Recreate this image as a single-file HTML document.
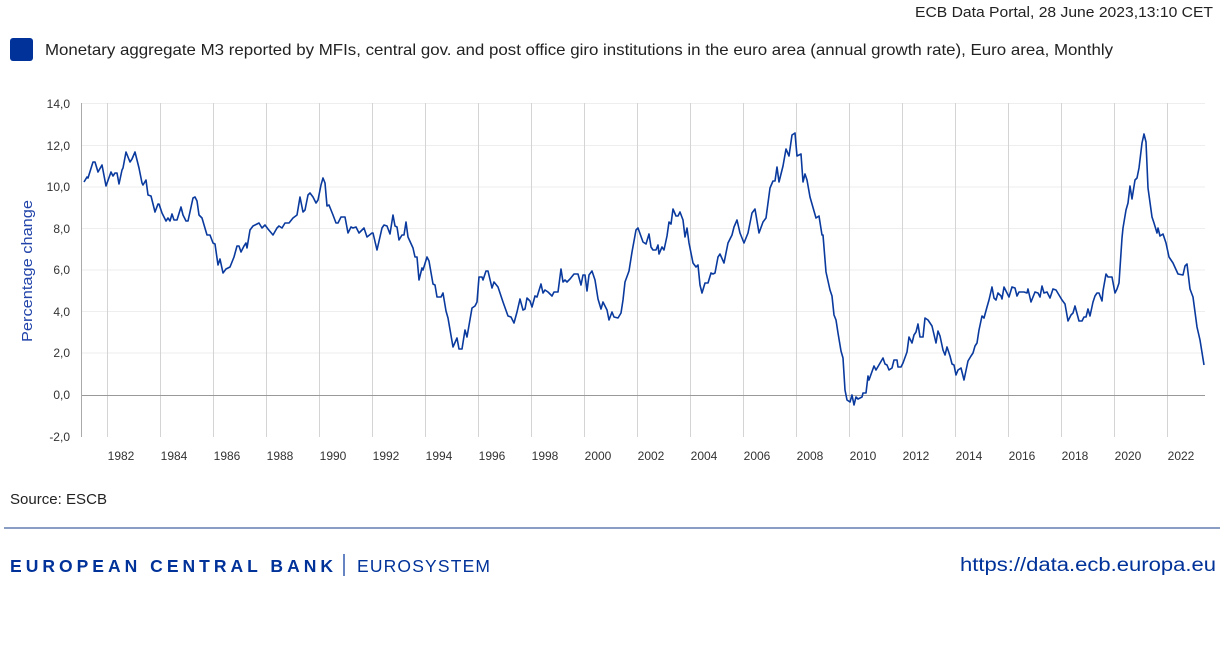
<!DOCTYPE html>
<html><head><meta charset="utf-8"><style>
body{margin:0;width:1220px;height:669px;background:#fff;font-family:"Liberation Sans","DejaVu Sans",sans-serif;overflow:hidden}
</style></head><body>
<svg width="1220" height="669" xmlns="http://www.w3.org/2000/svg" style="position:absolute;left:0;top:0">
<text x="1213" y="17" text-anchor="end" font-size="15" fill="#222" textLength="298" lengthAdjust="spacingAndGlyphs">ECB Data Portal, 28 June 2023,13:10 CET</text>
<rect x="10" y="38" width="23" height="23" rx="3" fill="#003299"/>
<text x="45" y="55" font-size="16" fill="#222" textLength="1068" lengthAdjust="spacingAndGlyphs">Monetary aggregate M3 reported by MFIs, central gov. and post office giro institutions in the euro area (annual growth rate), Euro area, Monthly</text>
<g stroke="#eeeeee" stroke-width="1">
<line x1="82" x2="1205" y1="103.5" y2="103.5"/><line x1="82" x2="1205" y1="145.5" y2="145.5"/><line x1="82" x2="1205" y1="187" y2="187"/><line x1="82" x2="1205" y1="228.5" y2="228.5"/><line x1="82" x2="1205" y1="270" y2="270"/><line x1="82" x2="1205" y1="311.5" y2="311.5"/><line x1="82" x2="1205" y1="353" y2="353"/>
</g>
<g stroke="#d4d4d4" stroke-width="1">
<line x1="107.5" x2="107.5" y1="103" y2="437"/><line x1="160.5" x2="160.5" y1="103" y2="437"/><line x1="213.5" x2="213.5" y1="103" y2="437"/><line x1="266.5" x2="266.5" y1="103" y2="437"/><line x1="319.5" x2="319.5" y1="103" y2="437"/><line x1="372.5" x2="372.5" y1="103" y2="437"/><line x1="425.5" x2="425.5" y1="103" y2="437"/><line x1="478.5" x2="478.5" y1="103" y2="437"/><line x1="531.5" x2="531.5" y1="103" y2="437"/><line x1="584.5" x2="584.5" y1="103" y2="437"/><line x1="637.5" x2="637.5" y1="103" y2="437"/><line x1="690.5" x2="690.5" y1="103" y2="437"/><line x1="743.5" x2="743.5" y1="103" y2="437"/><line x1="796.5" x2="796.5" y1="103" y2="437"/><line x1="849.5" x2="849.5" y1="103" y2="437"/><line x1="902.5" x2="902.5" y1="103" y2="437"/><line x1="955.5" x2="955.5" y1="103" y2="437"/><line x1="1008.5" x2="1008.5" y1="103" y2="437"/><line x1="1061.5" x2="1061.5" y1="103" y2="437"/><line x1="1114.5" x2="1114.5" y1="103" y2="437"/><line x1="1167.5" x2="1167.5" y1="103" y2="437"/>
</g>
<line x1="81.5" x2="81.5" y1="103" y2="437" stroke="#aaa"/>
<line x1="82" x2="1205" y1="395.5" y2="395.5" stroke="#999"/>
<g font-size="12" fill="#333" text-anchor="end">
<text x="70" y="108">14,0</text><text x="70" y="150">12,0</text><text x="70" y="191">10,0</text><text x="70" y="233">8,0</text><text x="70" y="274">6,0</text><text x="70" y="316">4,0</text><text x="70" y="357">2,0</text><text x="70" y="399">0,0</text><text x="70" y="441">-2,0</text>
</g>
<g font-size="12" fill="#333" text-anchor="middle">
<text x="121" y="460">1982</text><text x="174" y="460">1984</text><text x="227" y="460">1986</text><text x="280" y="460">1988</text><text x="333" y="460">1990</text><text x="386" y="460">1992</text><text x="439" y="460">1994</text><text x="492" y="460">1996</text><text x="545" y="460">1998</text><text x="598" y="460">2000</text><text x="651" y="460">2002</text><text x="704" y="460">2004</text><text x="757" y="460">2006</text><text x="810" y="460">2008</text><text x="863" y="460">2010</text><text x="916" y="460">2012</text><text x="969" y="460">2014</text><text x="1022" y="460">2016</text><text x="1075" y="460">2018</text><text x="1128" y="460">2020</text><text x="1181" y="460">2022</text>
</g>
<text transform="translate(32,271) rotate(-90)" text-anchor="middle" font-size="15" fill="#2244aa" textLength="142" lengthAdjust="spacingAndGlyphs">Percentage change</text>
<polyline fill="none" stroke="#0a3a9e" stroke-width="1.6" stroke-linejoin="round" points="84,182 87,177 88,178 93,162 95,162 98,172 102,165 106,186 111,172 113,176 115,173 117,173 119,184 122,170 123,168 126,152 130,162 132,159 135,152 139,168 142,183 143,185 146,180 148,195 151,196 155,212 158,204 159,204 162,213 166,221 168,218 170,221 172,214 174,220 177,220 181,207 183,215 186,221 188,221 193,198 195,197 197,201 199,215 202,218 207,235 210,235 213,243 215,244 218,265 220,259 223,273 226,269 230,267 234,257 237,246 239,246 241,252 244,246 246,243 247,248 250,230 253,226 257,224 259,223 262,228 265,225 268,229 273,235 277,228 279,226 282,228 285,223 289,223 293,218 297,215 300,197 303,212 305,210 308,195 310,193 313,197 316,203 318,200 321,185 323,178 325,183 327,206 329,205 333,215 336,223 338,223 341,217 345,217 348,233 351,227 353,228 356,227 359,233 364,228 367,237 372,233 373,233 377,250 382,228 384,225 387,226 390,234 393,215 395,226 397,227 399,240 402,235 404,235 406,222 408,237 413,248 415,257 417,257 419,280 422,268 423,270 427,257 429,261 433,284 435,285 437,297 441,297 443,293 446,311 448,318 453,347 457,338 459,349 462,349 465,330 467,337 472,308 475,306 477,302 479,277 482,277 483,280 486,271 488,271 492,288 494,282 498,287 503,302 508,316 511,317 514,323 517,312 520,299 523,310 525,309 527,298 530,301 532,307 535,296 537,297 541,284 543,293 545,290 548,292 552,296 554,292 558,292 561,269 563,282 565,280 567,282 570,279 574,274 578,274 581,285 583,275 585,275 587,291 589,275 592,271 595,280 598,299 601,309 603,302 607,310 609,320 612,312 614,317 618,318 621,313 623,300 625,282 629,271 632,252 636,230 638,228 643,242 646,244 649,234 651,247 653,250 656,250 658,245 659,254 662,247 664,250 667,236 669,222 671,224 673,209 676,216 678,216 680,212 683,220 685,237 687,228 689,243 693,263 696,267 698,265 700,285 702,293 705,283 708,283 711,273 713,274 715,273 718,257 720,254 724,263 728,243 732,235 734,227 737,220 740,233 744,243 748,233 752,213 755,209 759,233 763,222 766,218 770,188 773,181 775,181 777,167 779,182 783,166 786,149 789,156 792,135 795,133 797,156 801,154 803,182 805,174 807,180 810,197 816,218 819,216 822,235 823,235 826,272 830,290 832,296 834,315 836,320 838,333 841,351 843,358 845,390 847,400 850,402 852,395 854,405 856,397 858,399 862,397 863,393 866,393 868,376 869,380 874,366 876,370 883,358 885,364 887,365 889,370 892,368 894,360 897,360 898,367 901,367 903,363 907,352 909,337 912,343 914,335 916,332 918,324 920,337 923,337 925,318 928,320 932,326 936,343 938,331 940,336 943,350 945,355 947,347 950,356 952,364 954,365 956,375 958,370 961,368 964,380 968,361 971,356 973,353 975,346 977,343 979,330 982,316 984,318 987,307 989,300 992,287 994,298 996,300 998,293 1001,296 1002,299 1004,287 1007,293 1009,297 1012,287 1015,288 1017,296 1019,292 1024,292 1027,293 1028,289 1031,302 1033,297 1035,292 1038,293 1040,297 1042,286 1044,293 1047,292 1050,298 1053,289 1056,290 1059,295 1062,300 1065,304 1068,321 1071,315 1073,313 1075,306 1079,321 1082,321 1084,317 1086,317 1088,309 1090,316 1093,302 1095,296 1097,293 1099,293 1102,301 1103,291 1106,274 1108,277 1112,277 1115,293 1117,289 1119,283 1122,238 1123,228 1126,210 1128,203 1130,186 1132,199 1135,180 1137,178 1139,168 1142,143 1144,134 1146,142 1148,188 1152,217 1154,223 1157,233 1158,228 1160,236 1163,234 1166,243 1169,257 1173,263 1178,274 1183,275 1185,266 1187,264 1190,289 1193,297 1197,327 1200,340 1204,365"/>
<text x="10" y="504" font-size="15" fill="#222" textLength="97" lengthAdjust="spacingAndGlyphs">Source: ESCB</text>
<line x1="4" x2="1220" y1="528" y2="528" stroke="#8a9dc2" stroke-width="2"/>
<text x="10" y="572" font-size="17.5" font-weight="bold" fill="#003299" textLength="323" lengthAdjust="spacing">EUROPEAN CENTRAL BANK</text>
<line x1="344" x2="344" y1="554" y2="576" stroke="#003299" stroke-width="1.2"/>
<text x="357" y="572" font-size="17.5" fill="#003299" textLength="133" lengthAdjust="spacing">EUROSYSTEM</text>
<text x="1216" y="571" text-anchor="end" font-size="19" fill="#003299" textLength="256" lengthAdjust="spacingAndGlyphs">https://data.ecb.europa.eu</text>
</svg>
</body></html>
